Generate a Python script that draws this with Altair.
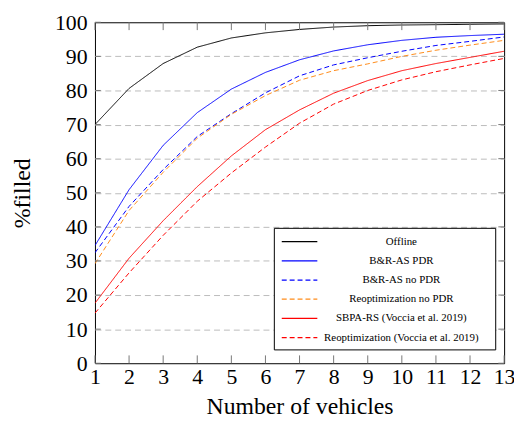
import altair as alt
import pandas as pd

vehicles = list(range(1, 14))
offline = [70.0, 80.6, 87.9, 92.7, 95.4, 96.9, 97.9, 98.6, 99.0, 99.2, 99.3, 99.4, 99.5]
br_pdr = [34.5, 50.9, 63.9, 73.5, 80.4, 85.3, 89.0, 91.6, 93.4, 94.7, 95.6, 96.1, 96.5]
br_nopdr = [32.4, 46.0, 56.8, 66.5, 73.2, 79.3, 84.3, 87.5, 89.6, 91.5, 93.2, 94.4, 95.7]
reopt_nopdr = [29.2, 44.8, 56.0, 66.0, 73.0, 78.5, 83.0, 85.8, 87.8, 90.0, 91.8, 93.3, 94.7]
sbpa = [17.6, 30.8, 41.8, 51.8, 60.8, 68.5, 74.3, 79.2, 82.9, 85.8, 87.9, 89.7, 91.5]
reopt_voccia = [14.7, 26.5, 37.5, 47.5, 55.8, 63.4, 70.4, 76.0, 80.0, 83.1, 85.5, 87.5, 89.4]

series_names = [
    "Offline",
    "B&R-AS PDR",
    "B&R-AS no PDR",
    "Reoptimization no PDR",
    "SBPA-RS (Voccia et al. 2019)",
    "Reoptimization (Voccia et al. 2019)",
]
series_values = [offline, br_pdr, br_nopdr, reopt_nopdr, sbpa, reopt_voccia]
series_colors = ["#000000", "#0000ff", "#0000ff", "#ff8c1a", "#ff0000", "#ff0000"]
series_dash = [[1, 0], [1, 0], [5, 3], [5, 3], [1, 0], [5, 3]]

x_ticks = list(range(1, 14))
y_ticks = list(range(0, 101, 10))

rows = []
for name, vals in zip(series_names, series_values):
    for v, val in zip(vehicles, vals):
        rows.append({"series": name, "vehicles": v, "filled": val})
df = pd.DataFrame(rows)

FONT = "Liberation Serif, Times New Roman, DejaVu Serif, serif"

x_scale = alt.Scale(domain=[1, 13], nice=False, zero=False)
y_scale = alt.Scale(domain=[0, 100], nice=False)

x_axis = alt.Axis(values=x_ticks, title="Number of vehicles", grid=False,
                  tickSize=0, labelPadding=4, titlePadding=7, domain=False,
                  labelOverlap=False, labelFlush=False, format="d")
y_axis = alt.Axis(values=y_ticks, title="%filled", grid=True,
                  gridDash=[6, 4], gridColor="#bbbbbb", gridWidth=1,
                  gridOpacity={"condition": {"test": "datum.value > 0 && datum.value < 100",
                                             "value": 1}, "value": 0},
                  tickSize=0, labelPadding=8, titlePadding=20, domain=False,
                  labelOverlap=False, labelFlush=False, format="d")

lines = alt.Chart(df).mark_line(strokeWidth=1, clip=True).encode(
    x=alt.X("vehicles:Q", scale=x_scale, axis=x_axis),
    y=alt.Y("filled:Q", scale=y_scale, axis=y_axis),
    color=alt.Color("series:N",
                    scale=alt.Scale(domain=series_names, range=series_colors),
                    legend=alt.Legend(title=" ")),
    strokeDash=alt.StrokeDash("series:N",
                              scale=alt.Scale(domain=series_names, range=series_dash),
                              legend=alt.Legend(title=" ")),
    order=alt.Order("vehicles:Q"),
)

xt = pd.DataFrame({"t": x_ticks})
yt = pd.DataFrame({"t": y_ticks})

tick_color = "#777777"
bottom_ticks = alt.Chart(xt).mark_rule(color=tick_color, strokeWidth=1).encode(
    x=alt.X("t:Q", scale=x_scale, axis=x_axis),
    y=alt.datum(0, scale=y_scale, axis=y_axis), y2=alt.datum(2.3))
top_ticks = alt.Chart(xt).mark_rule(color=tick_color, strokeWidth=1).encode(
    x=alt.X("t:Q", scale=x_scale, axis=x_axis),
    y=alt.datum(100, scale=y_scale, axis=y_axis), y2=alt.datum(97.7))
left_ticks = alt.Chart(yt).mark_rule(color=tick_color, strokeWidth=1).encode(
    y=alt.Y("t:Q", scale=y_scale, axis=y_axis),
    x=alt.datum(1, scale=x_scale, axis=x_axis), x2=alt.datum(1.17))
right_ticks = alt.Chart(yt).mark_rule(color=tick_color, strokeWidth=1).encode(
    y=alt.Y("t:Q", scale=y_scale, axis=y_axis),
    x=alt.datum(13, scale=x_scale, axis=x_axis), x2=alt.datum(12.83))

chart = alt.layer(lines, bottom_ticks, top_ticks, left_ticks, right_ticks).properties(
    width=414, height=345,
    autosize=alt.AutoSizeParams(type="none"),
    padding={"left": 88, "top": 12, "right": 10, "bottom": 56},
).configure_view(
    stroke="#000000", strokeWidth=1
).configure_axis(
    labelFont=FONT, titleFont=FONT, labelFontSize=22, titleFontSize=24,
    labelColor="#000000", titleColor="#000000", titleFontWeight="normal",
    labelOverlap=False, labelFlush=False,
).configure_legend(
    orient="none", legendX=181, legendY=208,
    fillColor="#ffffff", strokeColor="#000000", strokeWidth=1,
    padding=7, cornerRadius=0,
    titleOrient="right", titlePadding=10, titleFontSize=4,
    symbolType="M-1,0H5", symbolSize=144, symbolStrokeWidth=1.3,
    labelFont=FONT, labelFontSize=11, labelColor="#000000",
    labelAlign="center", labelOffset=108,
    rowPadding=7.4,
)

chart.save("out.html", embed_options={"renderer": "svg", "actions": False})
